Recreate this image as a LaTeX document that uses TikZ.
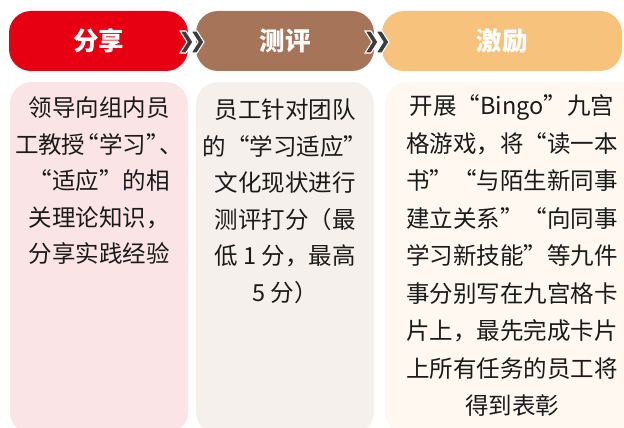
\documentclass[tikz,border=0pt]{standalone}
\usepackage{fontspec}
\newfontfamily\cjk{Noto Sans CJK SC}
\definecolor{hred}{HTML}{E60012}
\definecolor{hbrown}{HTML}{A67458}
\definecolor{horange}{HTML}{F7C27B}
\definecolor{bpink}{HTML}{FBE4E6}
\definecolor{bbeige}{HTML}{F5F0EC}
\definecolor{bcream}{HTML}{FEF8F1}
\definecolor{chev}{HTML}{3C3C3C}
\definecolor{txt}{HTML}{1A1A1A}
\tikzset{
  pill/.style={rounded corners=22pt, inner sep=0pt, minimum height=60pt,
    text=white, font=\cjk\bfseries\fontsize{25.5}{30}\selectfont},
  bodybox/.style={rounded corners=22pt},
  bodytext/.style={anchor=north, align=center, inner sep=0pt, text=txt},
  chevron/.style={fill=chev, draw=white, line width=1.1pt, line join=miter}
}
\begin{document}
\begin{tikzpicture}[x=1pt,y=-1pt]
\useasboundingbox (0,0) rectangle (624,428);
\clip (0,0) rectangle (624,428);
% body boxes
\fill[bpink, bodybox] (10,82) rectangle (188,434);
\fill[bbeige, bodybox] (196,82) rectangle (374,434);
\fill[bcream, bodybox] (385,82) rectangle (648,434);
% header pills
\node[pill, fill=hred, minimum width=179pt] (h1) at (98.5,41) {分享};
\node[pill, fill=hbrown, minimum width=178pt] (h2) at (285,41) {测评};
\node[pill, fill=horange, minimum width=240pt] (h3) at (502,41) {};
\node[text=white, font=\cjk\bfseries\fontsize{25.5}{30}\selectfont] (h3t) at (502,41) {激励};
% chevrons
\foreach \x in {180,191,365,376}{
  \filldraw[chevron] (\x,31) -- (\x+6,31) -- (\x+13,42) -- (\x+6,53) -- (\x,53) -- (\x+7,42) -- cycle;
}
% body texts
\node[bodytext, font=\cjk\fontsize{23.5}{36.6}\selectfont] (t1) at (99,96.5) {领导向组内员\\工教授\kern-10pt“学习”\kern-10pt、\\“适应”的相\\关理论知识，\\分享实践经验};
\node[bodytext, font=\cjk\fontsize{23.5}{36.6}\selectfont] (t2) at (285,98.5) {员工针对团队\\的“学习适应”\\文化现状进行\\测评打分（最\\低 1 分，最高\\5 分）};
\node[bodytext, font=\cjk\fontsize{23.5}{37.5}\selectfont] (t3) at (512,94.5) {开展“Bingo”九宫\\格游戏，将“读一本\\书”“与陌生新同事\\建立关系”“向同事\\学习新技能”等九件\\事分别写在九宫格卡\\片上，最先完成卡片\\上所有任务的员工将\\得到表彰};
\end{tikzpicture}
\end{document}
